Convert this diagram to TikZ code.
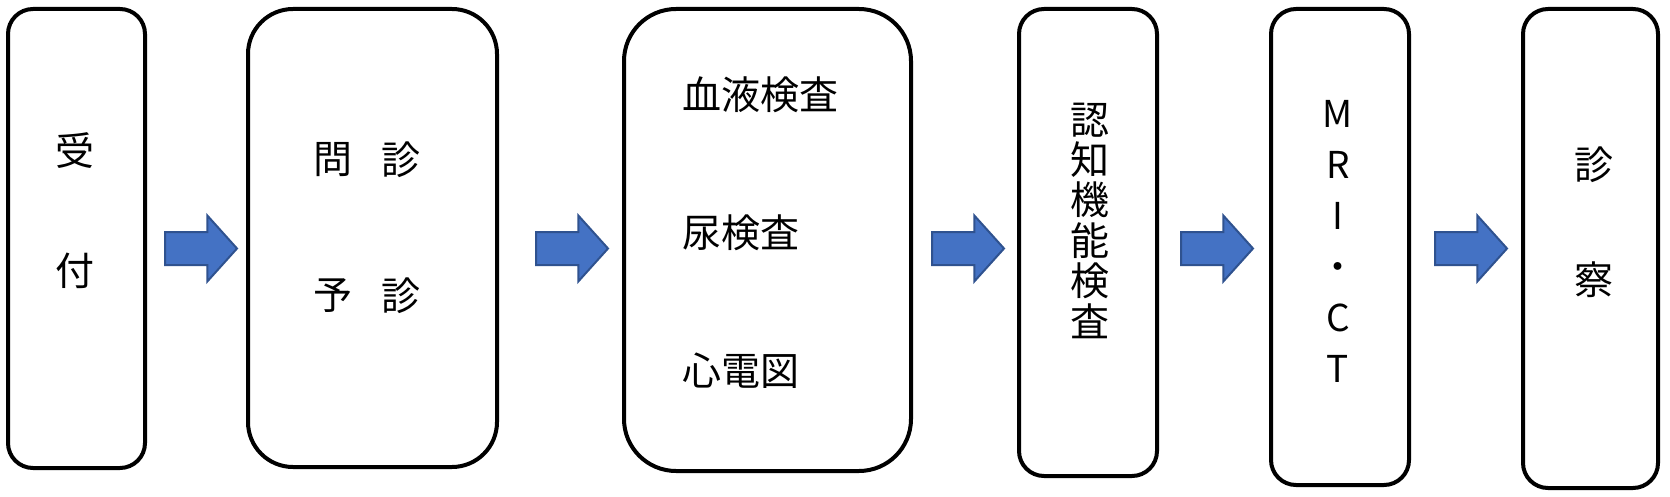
\documentclass[tikz,border=0pt]{standalone}
\usepackage{fontspec}
\setmainfont{Noto Sans CJK JP}
\usetikzlibrary{shapes.arrows}
\definecolor{arrowfill}{HTML}{4472C4}
\definecolor{arrowedge}{HTML}{2F528F}
\begin{document}
\begin{tikzpicture}[x=1pt,y=-1pt,
  box/.style={draw=black, line width=4pt, rounded corners=#1, inner sep=0pt, fill=white, anchor=center},
  box/.default=25pt,
  blk/.style={single arrow, draw=arrowedge, fill=arrowfill, line width=2pt, inner sep=0pt,
    text height=15.5pt, text depth=15.5pt, text width=0pt,
    minimum height=72pt, minimum width=64pt, single arrow head extend=16.5pt,
    single arrow tip angle=96, anchor=tail},
  lbl/.style={font=\fontsize{39}{40.4}\selectfont, inner sep=0pt, anchor=center},
  lblw/.style={font=\fontsize{39}{40.4}\selectfont, inner sep=0pt, anchor=west},
  vert/.style={font=\fontsize{39}{#1}\selectfont, inner sep=0pt, anchor=center, align=center}
]
\useasboundingbox (0,0) rectangle (1670,497);
% boxes
\node[box, minimum width=137pt, minimum height=459pt] (b1) at (76.5,238.5) {};
\node[box=45pt, minimum width=249pt, minimum height=458pt] (b2) at (372.5,238) {};
\node[box=52pt, minimum width=287pt, minimum height=462pt] (b3) at (767.5,240) {};
\node[box, minimum width=138pt, minimum height=467pt] (b4) at (1088,242.5) {};
\node[box, minimum width=138pt, minimum height=476pt] (b5) at (1340,247) {};
\node[box, minimum width=135pt, minimum height=479pt] (b6) at (1590.5,248.5) {};
% arrows
\node[blk] (a1) at (164,248.5) {};
\node[blk] (a2) at (535,248.5) {};
\node[blk] (a3) at (931,248.5) {};
\node[blk] (a4) at (1180,248.5) {};
\node[blk] (a5) at (1434,248.5) {};
% texts
\node[lbl] (t1a) at (75,151) {受};
\node[lbl] (t1b) at (75,271) {付};
\node[lbl] (t2a) at (333,160) {問};
\node[lbl] (t2b) at (401,160) {診};
\node[lbl] (t2c) at (333,296) {予};
\node[lbl] (t2d) at (401,296) {診};
\node[lblw] (t3a) at (682,95) {血液検査};
\node[lblw] (t3b) at (682,233) {尿検査};
\node[lblw] (t3c) at (682,371) {心電図};
\node[vert=40.4] (t4) at (1090,220.5) {認\\知\\機\\能\\検\\査};
\node[vert=51, font=\fontsize{37}{51}\selectfont] (t5) at (1338,241.5) {M\\R\\I\\・\\C\\T};
\node[lbl] (t6a) at (1594,165) {診};
\node[lbl] (t6b) at (1594,280) {察};
\end{tikzpicture}
\end{document}
